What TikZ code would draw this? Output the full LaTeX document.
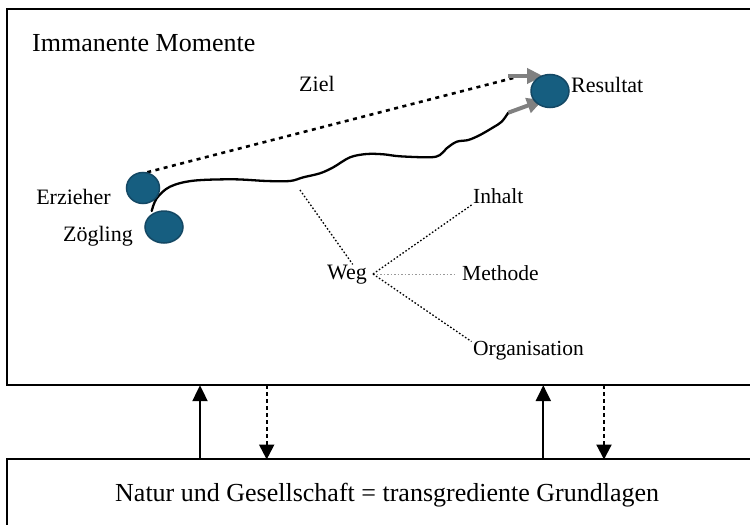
\documentclass[tikz,border=0pt]{standalone}
\usepackage{fontspec}
\setmainfont{Liberation Serif}
\usetikzlibrary{arrows.meta,shapes.geometric,calc,backgrounds}
\definecolor{ballfill}{RGB}{22,94,128}
\definecolor{ballrim}{RGB}{20,72,100}
\definecolor{arrgray}{RGB}{128,128,128}
\begin{document}
\begin{tikzpicture}[x=1pt,y=-1pt,
  box/.style={draw=black,line width=2.4pt,rectangle,anchor=north west,inner sep=0pt},
  ball/.style={ellipse,fill=ballfill,draw=ballrim,line width=1.5pt,inner sep=0pt},
  bigtxt/.style={font=\fontsize{26}{30}\selectfont,inner sep=0pt},
  lbl/.style={font=\fontsize{22}{26}\selectfont,inner sep=0pt},
  sml/.style={font=\fontsize{21.5}{25}\selectfont,inner sep=0pt},
  zieldots/.style={line width=2.6pt,dash pattern=on 4pt off 4.5pt},
  fine/.style={line width=1.3pt,dash pattern=on 1.6pt off 2pt},
  finegray/.style={line width=1pt,draw=gray!80,dash pattern=on 1.5pt off 2pt},
  grayarr/.style={draw=arrgray,line width=4pt,-{Triangle[length=16pt,width=15pt]}},
  uparr/.style={line width=2.2pt,-{Triangle[length=16pt,width=15pt]}},
  downarr/.style={line width=2.2pt,dash pattern=on 4pt off 3pt,-{Triangle[length=15pt,width=15pt]}},
]
\useasboundingbox (0,0) rectangle (750,525);
\clip (0,0) rectangle (750,525);

% boxes
\node[box,minimum width=780pt,minimum height=376pt] (top) at (6,8) {};
\node[box,minimum width=780pt,minimum height=120pt] (bot) at (6,458) {};

% texts
\node[bigtxt,anchor=base west] (imm) at (32,51) {Immanente Momente};
\node[bigtxt,anchor=base west] (nat) at (115,501) {Natur und Gesellschaft = transgrediente Grundlagen};
\node[lbl,anchor=base west] (ziel) at (299,91) {Ziel};

% balls
\node[ball,minimum width=33pt,minimum height=31pt] (erz) at (143,188) {};
\node[ball,minimum width=38pt,minimum height=32pt] (zog) at (164,227) {};
\node[ball,minimum width=38pt,minimum height=33pt] (res) at (550,91) {};

\node[lbl,anchor=base east] (erzl) at (111,204) {Erzieher};
\node[lbl,anchor=base east] (zogl) at (133,241) {Zögling};
\node[lbl,anchor=base west] (resl) at (571,92) {Resultat};

% Weg and branches
\node[lbl,anchor=base west] (weg) at (327,279) {Weg};
\node[sml,anchor=base west] (inh) at (473,203) {Inhalt};
\node[sml,anchor=base west] (meth) at (462,280) {Methode};
\node[sml,anchor=base west] (org) at (473,355) {Organisation};

\begin{pgfonlayer}{background}
% Ziel dotted line
\coordinate (zend) at (517,77);
\draw[zieldots] (erz.75) -- (zend);
\coordinate (ga1) at (508,76);
\draw[grayarr] (ga1) -- ($(res.center)+(-7,-15)$);

% wavy path
\draw[line width=2.3pt,line cap=round] plot[smooth,tension=0.55] coordinates {
 (151.7,211) (156.7,198.3) (170,186.7) (193.3,180.7) (233.3,179.3) (266.7,181)
 (290,181) (303.3,177.3) (320,173.3) (333.3,167.3) (350,157.3) (366.7,154)
 (383.3,154.3) (400,156.3) (430,157.3) (440,155) (446.7,148.3) (456.7,141.7)
 (468.3,140) (480,135) (493.3,127.3) (501.7,121.7) (508.3,112.7)};
\coordinate (wend) at (508.3,112.7);
\draw[grayarr] (wend) -- ($(res.center)+(-7,9)$);
\end{pgfonlayer}

% Weg connectors
\coordinate (wtop) at (300,190);
\draw[fine] (wtop) -- (weg.60);
\coordinate (wr) at (373,274);
\draw[fine] (wr) -- ([xshift=-1.5pt,yshift=-2pt]inh.base west);
\draw[finegray] (wr) -- ([xshift=-8pt]wr -| meth.west);
\draw[fine] (wr) -- ([xshift=-1.5pt,yshift=-1pt]org.north west);

% vertical arrows
\coordinate (x1) at (200,0);
\coordinate (x2) at (266.7,0);
\coordinate (x3) at (543.3,0);
\coordinate (x4) at (604,0);
\draw[uparr] ([yshift=-1pt]bot.north -| x1) -- ([yshift=1.2pt]top.south -| x1);
\draw[uparr] ([yshift=-1pt]bot.north -| x3) -- ([yshift=1.2pt]top.south -| x3);
\draw[downarr] ([yshift=1pt]top.south -| x2) -- ([yshift=-1.5pt]bot.north -| x2);
\draw[downarr] ([yshift=1pt]top.south -| x4) -- ([yshift=-1.5pt]bot.north -| x4);
\end{tikzpicture}
\end{document}
